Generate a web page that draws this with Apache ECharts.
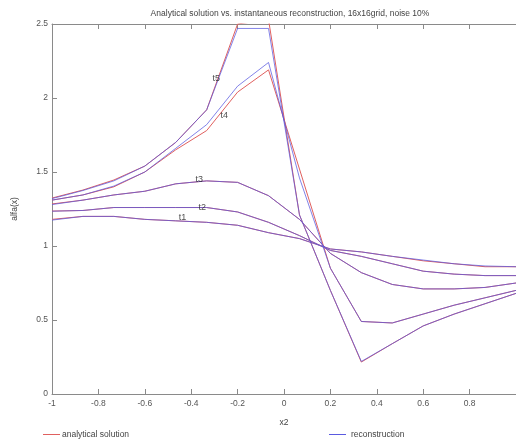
<!DOCTYPE html>
<html>
<head>
<meta charset="utf-8">
<script src="https://cdn.jsdelivr.net/npm/echarts@6/dist/echarts.min.js"></script>
<style>html,body{margin:0;padding:0;background:#fff;}#c{width:516px;height:443px;}</style>
</head>
<body>
<div id="c"></div>
<script>
var xGrid = [-1, -0.8667, -0.7333, -0.6, -0.4667, -0.3333, -0.2, -0.0667, 0.0667, 0.2, 0.3333, 0.4667, 0.6, 0.7333, 0.8667, 1];

var analyticalT1 = [1.18, 1.20, 1.20, 1.18, 1.17, 1.16, 1.14, 1.09, 1.05, 0.98, 0.96, 0.93, 0.90, 0.88, 0.86, 0.86];
var analyticalT2 = [1.236, 1.24, 1.26, 1.26, 1.26, 1.26, 1.23, 1.16, 1.07, 0.97, 0.93, 0.88, 0.83, 0.81, 0.80, 0.80];
var analyticalT3 = [1.284, 1.31, 1.345, 1.37, 1.42, 1.44, 1.43, 1.34, 1.18, 0.95, 0.82, 0.74, 0.71, 0.71, 0.72, 0.75];
var analyticalT4 = [1.31, 1.345, 1.40, 1.50, 1.65, 1.78, 2.04, 2.19, 1.52, 0.85, 0.49, 0.48, 0.54, 0.60, 0.65, 0.70];
var analyticalT5 = [1.324, 1.378, 1.446, 1.54, 1.70, 1.92, 2.50, 2.53, 1.21, 0.70, 0.216, 0.34, 0.46, 0.54, 0.61, 0.68];

var reconT1 = [1.175, 1.20, 1.20, 1.18, 1.17, 1.16, 1.14, 1.09, 1.05, 0.98, 0.96, 0.93, 0.905, 0.88, 0.865, 0.86];
var reconT2 = [1.235, 1.24, 1.26, 1.26, 1.26, 1.26, 1.23, 1.16, 1.07, 0.97, 0.93, 0.88, 0.83, 0.81, 0.80, 0.80];
var reconT3 = [1.28, 1.31, 1.345, 1.37, 1.42, 1.44, 1.43, 1.34, 1.18, 0.95, 0.82, 0.74, 0.71, 0.71, 0.72, 0.75];
var reconT4 = [1.31, 1.345, 1.405, 1.50, 1.66, 1.82, 2.08, 2.24, 1.46, 0.85, 0.49, 0.48, 0.54, 0.60, 0.65, 0.70];
var reconT5 = [1.32, 1.375, 1.44, 1.54, 1.70, 1.92, 2.47, 2.47, 1.21, 0.70, 0.22, 0.34, 0.46, 0.54, 0.61, 0.68];

var curveLabels = ['t1', 't2', 't3', 't4', 't5'];
var curveLabelX = [-0.438, -0.352, -0.365, -0.258, -0.292];
var curveLabelY = [1.19, 1.26, 1.446, 1.885, 2.135];

var titleText = 'Analytical solution vs. instantaneous reconstruction, 16x16grid, noise 10%';
var xName = 'x2';
var yName = 'alfa(x)';
var nameAnalytical = 'analytical solution';
var nameRecon = 'reconstruction';

var RED = '#e0605f';
var BLUE = '#5a5ae0';
var FONT = 'Liberation Sans';

function pairs(ys) { return xGrid.map(function (x, i) { return [x, ys[i]]; }); }
function lineSeries(name, ys, color, z, op) {
  return {
    name: name, type: 'line', data: pairs(ys), showSymbol: false, symbol: 'none',
    clip: true, z: z, animation: false,
    lineStyle: { color: color, width: 1, opacity: op },
    itemStyle: { color: color },
    emphasis: { disabled: true }
  };
}

var series = [];
[analyticalT1, analyticalT2, analyticalT3, analyticalT4, analyticalT5].forEach(function (d) {
  series.push(lineSeries(nameAnalytical, d, RED, 2, 1));
});
[reconT1, reconT2, reconT3, reconT4, reconT5].forEach(function (d) {
  series.push(lineSeries(nameRecon, d, BLUE, 3, 0.75));
});
series.push({
  type: 'scatter', symbolSize: 0, z: 5, animation: false, silent: true,
  data: curveLabels.map(function (t, i) { return { name: t, value: [curveLabelX[i], curveLabelY[i]] }; }),
  label: { show: true, position: 'inside', formatter: '{b}', color: '#222', fontSize: 9, fontFamily: FONT }
});

var axisCol = '#8a8a8a';
var chart = echarts.init(document.getElementById('c'), null, { renderer: 'canvas' });
chart.setOption({
  backgroundColor: '#fff',
  animation: false,
  title: {
    text: titleText, left: 285, top: 4, textAlign: 'center',
    textStyle: { fontSize: 8.5, fontWeight: 'normal', color: '#444', fontFamily: FONT }
  },
  legend: [
    { data: [nameAnalytical], left: 38, top: 425, itemWidth: 17, itemHeight: 1, icon: 'rect', itemGap: 3,
      textStyle: { fontSize: 8.5, color: '#444', fontFamily: FONT, padding: [0, 0, 0, -3] } },
    { data: [nameRecon], left: 324, top: 425, itemWidth: 17, itemHeight: 1, icon: 'rect', itemGap: 3,
      textStyle: { fontSize: 8.5, color: '#444', fontFamily: FONT, padding: [0, 0, 0, 0] } }
  ],
  grid: { left: 52, top: 24, width: 466, height: 370, containLabel: false },
  xAxis: [
    { type: 'value', min: -1, max: 1, interval: 0.2, position: 'bottom',
      name: xName, nameLocation: 'middle', nameGap: 24,
      nameTextStyle: { fontSize: 8.5, color: '#444', fontFamily: FONT },
      axisLine: { show: true, onZero: false, lineStyle: { color: axisCol, width: 1 } },
      axisTick: { show: true, inside: true, length: 5, lineStyle: { color: axisCol } },
      axisLabel: { fontSize: 8.5, color: '#555', fontFamily: FONT, margin: 5, showMaxLabel: false },
      splitLine: { show: false } },
    { type: 'value', min: -1, max: 1, interval: 0.2, position: 'top',
      axisLine: { show: true, onZero: false, lineStyle: { color: axisCol, width: 1 } },
      axisTick: { show: true, inside: true, length: 5, lineStyle: { color: axisCol } },
      axisLabel: { show: false }, splitLine: { show: false } }
  ],
  yAxis: [
    { type: 'value', min: 0, max: 2.5, interval: 0.5, position: 'left',
      name: yName, nameLocation: 'middle', nameGap: 33, nameRotate: 90,
      nameTextStyle: { fontSize: 8.5, color: '#444', fontFamily: FONT },
      axisLine: { show: true, onZero: false, lineStyle: { color: axisCol, width: 1 } },
      axisTick: { show: true, inside: true, length: 5, lineStyle: { color: axisCol } },
      axisLabel: { fontSize: 8.5, color: '#555', fontFamily: FONT, margin: 4 },
      splitLine: { show: false } }
  ],
  series: series
});
</script>
</body>
</html>
